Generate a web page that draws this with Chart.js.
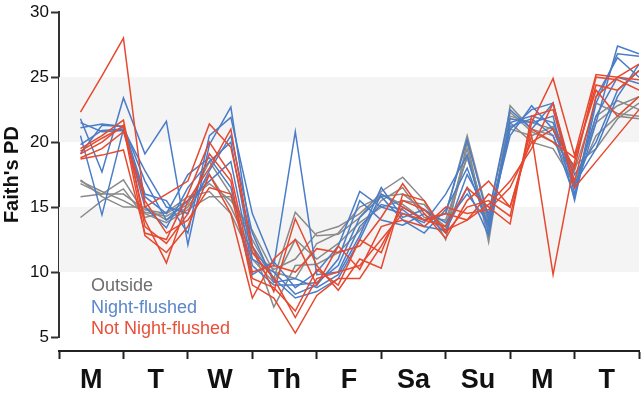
<!DOCTYPE html>
<html lang="en">
<head>
    <meta charset="UTF-8">
    <title>Faith's PD by day</title>
    <style>
        body { margin: 0; background: #fff; }
        .wrap { position: relative; width: 644px; height: 400px; }
        .legend { position: absolute; left: 91px; top: 275px; font-family: 'Liberation Sans', Arial, sans-serif; font-size: 18px; line-height: 21.5px; }
    </style>
    <script src="https://cdn.jsdelivr.net/npm/chart.js"></script>
</head>
<body>
    <div class="wrap">
        <canvas id="pdChart" width="644" height="400"></canvas>
        <div class="legend">
            <div style="color:#6e6e6e">Outside</div>
            <div style="color:#5a86cc">Night-flushed</div>
            <div style="color:#e8503a">Not Night-flushed</div>
        </div>
    </div>

    <script>
        // three samples per day, days in order
        const days = ['M', 'T', 'W', 'Th', 'F', 'Sa', 'Su', 'M', 'T'];
        const yTicks = [5, 10, 15, 20, 25, 30];
        const bands = [[10, 15], [20, 25]];

        const outside = [
            [17.0, 16.2, 15.5, 14.6, 14.3, 15.2, 18.5, 16.0, 12.5, 9.5, 14.6, 12.8, 12.9, 14.2, 16.2, 17.3, 15.5, 12.5, 20.0, 12.3, 22.8, 21.0, 20.5, 16.5, 22.0, 23.2, 22.5],
            [16.8, 16.0, 16.0, 14.8, 14.5, 15.5, 16.8, 15.5, 13.2, 10.0, 9.5, 12.2, 13.0, 15.0, 15.8, 16.0, 14.8, 13.5, 19.5, 13.0, 22.0, 21.5, 21.0, 17.0, 21.5, 22.8, 23.5],
            [15.8, 16.0, 17.1, 14.5, 13.8, 14.8, 15.8, 15.8, 12.0, 7.3, 10.5, 10.6, 11.5, 13.2, 15.5, 16.5, 14.2, 14.0, 18.8, 13.5, 21.5, 20.0, 19.5, 16.8, 20.5, 22.0, 21.8],
            [14.2, 15.5, 16.4, 14.2, 14.6, 15.8, 16.2, 14.5, 11.0, 9.2, 12.5, 11.0, 12.2, 13.8, 15.0, 15.5, 15.2, 13.2, 19.0, 13.8, 21.0, 20.5, 21.2, 17.8, 23.0, 22.2, 22.0],
            [17.1, 15.8, 15.0, 15.0, 14.0, 15.0, 17.5, 15.0, 11.5, 10.2, 11.0, 13.0, 13.5, 14.5, 16.0, 15.2, 14.0, 14.5, 20.5, 14.2, 22.3, 20.8, 20.0, 18.2, 19.5, 21.8, 23.0]
        ];

        const nightFlushed = [
            [21.8, 17.7, 23.4, 19.1, 21.6, 12.1, 19.8, 22.7, 12.0, 9.5, 8.0, 8.5, 9.5, 12.5, 16.0, 15.0, 14.0, 14.5, 20.2, 14.0, 21.0, 22.5, 23.0, 16.0, 21.5, 27.4, 26.8],
            [21.1, 21.4, 21.2, 16.0, 15.5, 13.0, 20.5, 21.9, 14.5, 10.5, 20.8, 9.8, 10.0, 13.5, 15.2, 14.8, 13.5, 13.2, 16.5, 12.8, 21.8, 21.5, 22.0, 15.5, 23.0, 26.8, 26.6],
            [19.1, 21.3, 21.2, 17.0, 14.0, 15.5, 17.0, 18.5, 10.5, 9.0, 9.0, 9.2, 10.5, 14.2, 15.8, 14.0, 13.0, 14.8, 18.0, 13.5, 21.5, 22.0, 21.5, 17.5, 20.0, 24.0, 25.5],
            [20.5, 14.4, 21.0, 15.0, 13.4, 16.5, 18.5, 20.0, 11.0, 10.0, 8.3, 9.0, 11.0, 15.5, 14.0, 13.6, 14.5, 13.0, 17.5, 14.5, 22.5, 21.0, 23.0, 16.5, 22.0, 25.0, 24.5],
            [21.5, 20.8, 20.9, 15.8, 14.5, 17.5, 18.8, 16.5, 9.8, 10.8, 8.8, 10.0, 12.0, 16.2, 15.0, 14.5, 13.8, 16.0, 19.0, 13.0, 21.2, 21.8, 20.5, 15.8, 23.5, 26.5, 25.0],
            [19.8, 20.9, 21.0, 17.8, 15.0, 14.5, 17.8, 20.5, 13.0, 9.2, 9.5, 8.8, 9.8, 12.8, 16.5, 14.2, 14.8, 13.8, 16.0, 13.8, 20.5, 22.8, 21.0, 16.8, 19.5, 23.5, 26.0]
        ];

        const notNightFlushed = [
            [22.3, 25.1, 28.0, 15.0, 16.0, 17.0, 21.4, 19.6, 12.0, 8.5, 14.1, 10.5, 8.6, 11.0, 10.3, 16.0, 15.5, 13.0, 15.0, 15.5, 14.3, 21.5, 24.9, 19.0, 25.2, 25.0, 24.8],
            [19.5, 20.5, 21.7, 13.5, 12.2, 14.5, 19.1, 17.0, 9.0, 8.0, 5.3, 8.2, 9.5, 9.5, 12.0, 15.0, 14.0, 14.5, 14.0, 16.0, 15.0, 20.5, 9.8, 18.5, 24.4, 24.0, 25.5],
            [19.1, 20.0, 21.3, 14.0, 10.7, 15.5, 18.0, 21.0, 11.5, 9.5, 6.5, 9.5, 10.0, 10.5, 12.5, 14.5, 14.0, 13.5, 16.5, 15.0, 13.7, 22.0, 22.5, 16.5, 18.5, 20.5, 22.5],
            [18.7, 19.0, 19.4, 13.0, 12.5, 16.0, 20.0, 17.5, 10.0, 10.5, 10.0, 11.8, 11.5, 12.0, 14.2, 16.8, 14.5, 12.6, 15.5, 17.0, 15.0, 21.0, 20.0, 18.8, 24.0, 22.0, 23.5],
            [19.3, 20.3, 21.2, 12.8, 11.5, 13.5, 17.5, 14.5, 8.0, 11.0, 12.5, 9.0, 12.0, 10.2, 13.5, 14.0, 13.5, 15.0, 14.5, 14.8, 16.5, 20.0, 21.0, 18.0, 25.0, 24.8, 24.0],
            [18.8, 19.5, 20.8, 15.5, 13.0, 14.0, 16.5, 16.0, 9.5, 8.8, 7.0, 10.2, 9.0, 12.5, 11.5, 15.5, 14.8, 13.2, 14.0, 15.2, 17.0, 19.5, 23.0, 17.0, 23.5, 25.0, 26.0]
        ];

        const perDay = 3;
        const fontFamily = "'Liberation Sans', Arial, sans-serif";

        function toSeries(list, color) {
            return list.map(vals => ({
                data: vals.map((v, i) => ({ x: i + 1, y: v })),
                borderColor: color,
                borderWidth: 1.5,
                pointRadius: 0,
                fill: false,
                tension: 0
            }));
        }

        const datasets = [].concat(
            toSeries(notNightFlushed, '#e6492f'),
            toSeries(nightFlushed, '#4a7dc8'),
            toSeries(outside, '#8a8a8a')
        );

        const bandPlugin = {
            id: 'bands',
            beforeDatasetsDraw(chart) {
                const { ctx, chartArea, scales } = chart;
                ctx.save();
                ctx.fillStyle = '#f4f4f4';
                bands.forEach(([lo, hi]) => {
                    const top = scales.y.getPixelForValue(hi);
                    const bot = scales.y.getPixelForValue(lo);
                    ctx.fillRect(chartArea.left, top, chartArea.right - chartArea.left, bot - top);
                });
                ctx.restore();
            }
        };

        const dayEnd = days.length * perDay;

        new Chart(document.getElementById('pdChart').getContext('2d'), {
            type: 'line',
            data: { datasets },
            plugins: [bandPlugin],
            options: {
                responsive: false,
                animation: false,
                layout: { padding: { top: 0, right: 1, left: 0, bottom: 0 } },
                plugins: { legend: { display: false }, tooltip: { enabled: false } },
                scales: {
                    x: {
                        type: 'linear',
                        position: 'bottom',
                        weight: 1,
                        min: 0,
                        max: dayEnd,
                        afterBuildTicks: scale => {
                            const t = [];
                            days.forEach((d, k) => {
                                t.push({ value: k * perDay });
                                t.push({ value: k * perDay + perDay / 2 });
                            });
                            t.push({ value: dayEnd });
                            scale.ticks = t;
                        },
                        afterFit: scale => { scale.height = 49; },
                        border: { display: true, color: '#222', width: 2 },
                        grid: {
                            drawOnChartArea: false,
                            tickLength: 8,
                            tickWidth: 2,
                            tickColor: c => (c.tick && c.tick.value % perDay === 0) ? '#222' : 'rgba(0,0,0,0)'
                        },
                        ticks: {
                            autoSkip: false,
                            maxRotation: 0,
                            padding: 5,
                            color: '#111',
                            font: { family: fontFamily, size: 27, weight: 'bold' },
                            callback: v => {
                                const k = (v - perDay / 2) / perDay;
                                return Number.isInteger(k) ? days[k] : '';
                            }
                        }
                    },
                    gap: {
                        type: 'linear',
                        axis: 'x',
                        position: 'bottom',
                        weight: 0,
                        min: 0,
                        max: dayEnd,
                        afterFit: scale => { scale.height = 14; },
                        border: { display: false },
                        grid: { display: false },
                        ticks: { display: false }
                    },
                    y: {
                        min: yTicks[0],
                        max: yTicks[yTicks.length - 1],
                        afterBuildTicks: scale => { scale.ticks = yTicks.map(v => ({ value: v })); },
                        afterFit: scale => { scale.width = 59; },
                        border: { display: true, color: '#333', width: 2 },
                        grid: { drawOnChartArea: false, tickLength: 8, tickWidth: 2, tickColor: '#333' },
                        ticks: {
                            padding: 2,
                            color: '#111',
                            font: { family: fontFamily, size: 17 }
                        },
                        title: {
                            display: true,
                            text: "Faith's PD",
                            color: '#111',
                            padding: 0,
                            font: { family: fontFamily, size: 20, weight: 'bold' }
                        }
                    }
                }
            }
        });
    </script>
</body>
</html>
